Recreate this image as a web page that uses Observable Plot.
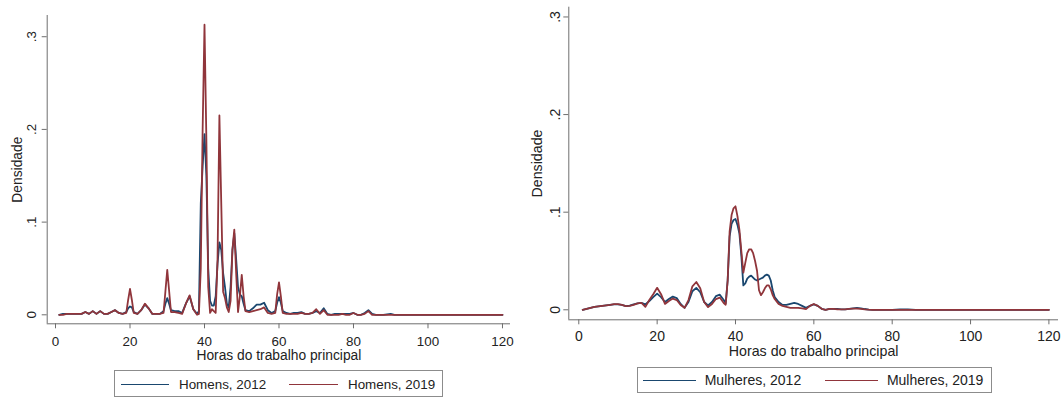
<!DOCTYPE html>
<html>
<head>
<meta charset="utf-8">
<script src="https://cdn.jsdelivr.net/npm/d3@7"></script>
<script src="https://cdn.jsdelivr.net/npm/@observablehq/plot@0.6"></script>
<style>
  body { margin: 0; background: #fff; }
  #wrap { position: relative; width: 1064px; height: 398px; overflow: hidden; font-family: "Liberation Sans", Arial, sans-serif; color: #222; }
  .panel { position: absolute; top: 0; }
  .legend { position: absolute; border: 1px solid #8c8c8c; box-sizing: border-box; background: #fff; }
  .legend .sw { position: absolute; top: 50%; height: 0; border-top: 1.6px solid; }
  .legend .lb { position: absolute; top: 50%; transform: translateY(-50%); white-space: nowrap; }
</style>
</head>
<body>
<div id="wrap"></div>
<script>
// Kernel density of weekly hours in the main job, by sex and year.

// Men: hours grid and densities
const menHours = [
  1, 2, 3, 4, 5, 6, 7, 8, 9, 10, 11, 12, 13, 14, 15, 16, 17, 18, 19, 19.5, 20, 20.5, 21, 22, 23, 24, 25, 26, 27, 28,
  29, 29.5, 30, 30.5, 31, 32, 33, 34, 35, 36, 37, 38, 38.5, 39, 39.5, 40, 40.5, 41, 41.5, 42, 42.5, 43, 43.5, 44,
  44.5, 45, 45.5, 46, 46.5, 47, 47.5, 48, 48.5, 49, 49.5, 50, 50.5, 51, 52, 53, 54, 55, 56, 57, 58, 59, 59.5, 60,
  60.5, 61, 62, 63, 64, 65, 66, 67, 68, 69, 70, 71, 72, 73, 74, 75, 76, 77, 78, 79, 80, 81, 82, 83, 84, 85, 86, 88,
  90, 91, 95, 100, 110, 120
];
const men2012 = [
  0.000, 0.001, 0.001, 0.001, 0.001, 0.001, 0.001, 0.003, 0.001, 0.004, 0.001, 0.004, 0.001, 0.001, 0.003, 0.005, 0.002, 0.001, 0.003, 0.007, 0.009, 0.008, 0.003, 0.001, 0.005, 0.011, 0.007, 0.001, 0.001, 0.001,
  0.004, 0.012, 0.018, 0.012, 0.005, 0.004, 0.004, 0.002, 0.012, 0.020, 0.006, 0.001, 0.004, 0.120, 0.160, 0.195, 0.150, 0.050, 0.015, 0.010, 0.010, 0.020, 0.055, 0.078,
  0.070, 0.045, 0.030, 0.012, 0.008, 0.030, 0.070, 0.088, 0.060, 0.030, 0.022, 0.020, 0.012, 0.005, 0.004, 0.007, 0.011, 0.011, 0.013, 0.005, 0.002, 0.004, 0.013, 0.019,
  0.013, 0.004, 0.002, 0.001, 0.002, 0.002, 0.003, 0.001, 0.001, 0.002, 0.004, 0.002, 0.007, 0.001, 0.000, 0.001, 0.001, 0.001, 0.001, 0.001, 0.002, 0.000, 0.000, 0.002, 0.005, 0.001, 0.000, 0.000,
  0.001, 0.000, 0.000, 0.000, 0.000, 0.000
];
const men2019 = [
  0.000, 0.000, 0.001, 0.001, 0.001, 0.001, 0.001, 0.003, 0.001, 0.004, 0.001, 0.004, 0.001, 0.001, 0.003, 0.005, 0.002, 0.001, 0.002, 0.016, 0.028, 0.016, 0.002, 0.001, 0.005, 0.012, 0.007, 0.001, 0.001, 0.001,
  0.002, 0.025, 0.0485, 0.026, 0.003, 0.003, 0.002, 0.001, 0.012, 0.021, 0.006, 0.000, 0.001, 0.050, 0.200, 0.313, 0.190, 0.030, 0.002, 0.006, 0.004, 0.002, 0.060, 0.215,
  0.120, 0.025, 0.018, 0.008, 0.003, 0.015, 0.070, 0.092, 0.045, 0.003, 0.020, 0.043, 0.020, 0.004, 0.003, 0.004, 0.005, 0.006, 0.008, 0.002, 0.001, 0.002, 0.022, 0.035,
  0.020, 0.002, 0.001, 0.001, 0.001, 0.001, 0.002, 0.001, 0.001, 0.002, 0.006, 0.001, 0.005, 0.000, 0.000, 0.000, 0.000, 0.001, 0.000, 0.000, 0.002, 0.000, 0.000, 0.001, 0.004, 0.000, 0.000, 0.000,
  0.000, 0.000, 0.000, 0.000, 0.000, 0.000
];

// Women: hours grid and densities
const womenHours = [
  1, 2, 3, 4, 5, 6, 7, 8, 9, 10, 11, 12, 13, 14, 15, 16, 17, 18, 19, 20, 21, 22, 23, 24, 25, 26, 27, 28, 29, 30,
  31, 32, 33, 34, 35, 36, 37, 37.5, 38, 38.5, 39, 39.5, 40, 40.5, 41, 41.5, 42, 42.5, 43, 43.5, 44, 44.5, 45, 45.5,
  46, 46.5, 47, 47.5, 48, 48.5, 49, 49.5, 50, 51, 52, 53, 54, 55, 56, 57, 58, 59, 60, 61, 62, 63, 64, 65, 66, 67,
  68, 69, 70, 71, 72, 73, 74, 75, 80, 82, 84, 86, 90, 100, 110, 120
];
const women2012 = [
  0.000, 0.001, 0.002, 0.003, 0.0035, 0.004, 0.0045, 0.005, 0.0055, 0.0055, 0.005, 0.0038, 0.0042, 0.0055, 0.0065, 0.007, 0.0055, 0.009, 0.013, 0.0165, 0.013, 0.008, 0.011, 0.0135, 0.012, 0.006, 0.002, 0.008, 0.019, 0.0225,
  0.018, 0.008, 0.0045, 0.008, 0.014, 0.0155, 0.010, 0.0068, 0.030, 0.075, 0.088, 0.092, 0.093, 0.087, 0.078, 0.055, 0.025, 0.027, 0.032, 0.034, 0.035, 0.033, 0.031, 0.030,
  0.031, 0.032, 0.033, 0.035, 0.036, 0.035, 0.030, 0.020, 0.013, 0.008, 0.005, 0.005, 0.006, 0.007, 0.006, 0.004, 0.002, 0.004, 0.0055, 0.004, 0.001, 0.000, 0.001, 0.001, 0.001, 0.0005,
  0.0005, 0.001, 0.0015, 0.002, 0.0015, 0.0008, 0.0002, 0.000, 0.000, 0.0003, 0.0005, 0.000, 0.000, 0.000, 0.000, 0.000
];
const women2019 = [
  0.000, 0.001, 0.002, 0.003, 0.0035, 0.004, 0.0045, 0.005, 0.0058, 0.0058, 0.005, 0.0037, 0.004, 0.005, 0.0065, 0.007, 0.003, 0.010, 0.016, 0.0225, 0.016, 0.006, 0.009, 0.0115, 0.010, 0.005, 0.002, 0.010, 0.024, 0.0285,
  0.022, 0.008, 0.0027, 0.006, 0.011, 0.0125, 0.007, 0.0052, 0.030, 0.080, 0.097, 0.104, 0.106, 0.096, 0.082, 0.060, 0.038, 0.048, 0.058, 0.062, 0.062, 0.058, 0.050, 0.040,
  0.020, 0.015, 0.018, 0.022, 0.025, 0.025, 0.021, 0.015, 0.011, 0.006, 0.004, 0.003, 0.002, 0.002, 0.002, 0.0015, 0.0007, 0.004, 0.006, 0.004, 0.001, 0.000, 0.001, 0.001, 0.0005, 0.0005,
  0.0005, 0.001, 0.0012, 0.0013, 0.001, 0.0005, 0.0002, 0.000, 0.000, 0.000, 0.000, 0.000, 0.000, 0.000, 0.000, 0.000
];

// Axis ticks and labels
const xTicks = [0, 20, 40, 60, 80, 100, 120];
const yTicks = [0, 0.1, 0.2, 0.3];
const yTickLabels = ["0", ".1", ".2", ".3"];
const xTitle = "Horas do trabalho principal";
const yTitle = "Densidade";
const seriesColor = {"2012": "#1a476f", "2019": "#90353b"};

const FONT = '"Liberation Sans", Arial, sans-serif';
const AXIS = "#6e6e6e";

function densityPanel(cfg) {
  const rows = [];
  cfg.hours.forEach((h, i) => rows.push({h, d: cfg.a[i], year: "2012"}));
  cfg.hours.forEach((h, i) => rows.push({h, d: cfg.b[i], year: "2019"}));
  const fs = cfg.fontSize;
  return Plot.plot({
    width: cfg.width,
    height: cfg.height,
    marginLeft: cfg.marginLeft,
    marginRight: cfg.marginRight,
    marginTop: cfg.marginTop,
    marginBottom: cfg.marginBottom,
    style: {fontFamily: FONT, fontSize: fs + "px", color: "#222", background: "#fff", overflow: "visible"},
    x: {domain: cfg.xDomain, axis: null},
    y: {domain: cfg.yDomain, axis: null},
    marks: [
      Plot.ruleX([cfg.xDomain[0]], {stroke: AXIS, strokeWidth: 1}),
      Plot.ruleY([cfg.yDomain[0]], {stroke: AXIS, strokeWidth: 1}),
      Plot.axisX({ticks: xTicks, tickSize: 5, tickPadding: cfg.xTickPadding, stroke: AXIS, fill: "#222", fontSize: fs, label: null}),
      Plot.axisY({ticks: yTicks, tickSize: 5, tickFormat: () => "", stroke: AXIS, label: null}),
      Plot.text(yTicks, {y: d => d, text: (d, i) => yTickLabels[i], frameAnchor: "left", dx: cfg.yTickDx,
        rotate: -90, textAnchor: "middle", lineAnchor: "middle", fill: "#222", fontSize: fs}),
      Plot.text([xTitle], {frameAnchor: "bottom", dy: cfg.xTitleDy, textAnchor: "middle", lineAnchor: "middle", fill: "#222", fontSize: cfg.titleSize}),
      Plot.text([yTitle], {frameAnchor: "left", dx: cfg.yTitleDx, rotate: -90, textAnchor: "middle", lineAnchor: "middle", fill: "#222", fontSize: cfg.titleSize}),
      Plot.lineY(rows.filter(r => r.year === "2012"), {x: "h", y: "d", stroke: seriesColor["2012"], strokeWidth: 1.8, curve: "linear"}),
      Plot.lineY(rows.filter(r => r.year === "2019"), {x: "h", y: "d", stroke: seriesColor["2019"], strokeWidth: 1.8, curve: "linear"})
    ]
  });
}

function legendBox(box, items, fs) {
  const el = document.createElement("div");
  el.className = "legend";
  Object.assign(el.style, {left: box.left + "px", top: box.top + "px", width: box.width + "px", height: box.height + "px", fontSize: fs + "px"});
  items.forEach(it => {
    const sw = document.createElement("div");
    sw.className = "sw";
    Object.assign(sw.style, {left: it.sw + "px", width: it.swWidth + "px", borderTopColor: seriesColor[it.year]});
    const lb = document.createElement("div");
    lb.className = "lb";
    lb.style.left = it.text + "px";
    lb.textContent = it.label;
    el.append(sw, lb);
  });
  return el;
}

const wrap = document.getElementById("wrap");

const left = densityPanel({
  hours: menHours, a: men2012, b: men2019,
  width: 520, height: 365, marginLeft: 46.7, marginRight: 10, marginTop: 15, marginBottom: 41.7,
  xDomain: [-2.23, 122.15], yDomain: [-0.0097, 0.3229],
  fontSize: 13.4, titleSize: 13.8, xTickPadding: 7.8, yTickDx: -15, yTitleDx: -29.7, xTitleDy: 32
});
left.classList.add("panel");
left.style.left = "0px";
wrap.append(left);

const right = densityPanel({
  hours: womenHours, a: women2012, b: women2019,
  width: 534, height: 360, marginLeft: 38.3, marginRight: 6, marginTop: 6.7, marginBottom: 40.7,
  xDomain: [-2.55, 122.45], yDomain: [-0.01025, 0.310],
  fontSize: 14, titleSize: 14.2, xTickPadding: 6, yTickDx: -12.8, yTitleDx: -31.5, xTitleDy: 32
});
right.classList.add("panel");
right.style.left = "530px";
wrap.append(right);

wrap.append(legendBox({left: 114, top: 370, width: 329, height: 27}, [
  {year: "2012", sw: 6, swWidth: 48, text: 64, label: "Homens, 2012"},
  {year: "2019", sw: 174, swWidth: 49, text: 233, label: "Homens, 2019"}
], 13.4));

wrap.append(legendBox({left: 636.6, top: 367, width: 355.6, height: 26}, [
  {year: "2012", sw: 5.8, swWidth: 52.8, text: 67.1, label: "Mulheres, 2012"},
  {year: "2019", sw: 187, swWidth: 53.8, text: 249.3, label: "Mulheres, 2019"}
], 14));
</script>
</body>
</html>
